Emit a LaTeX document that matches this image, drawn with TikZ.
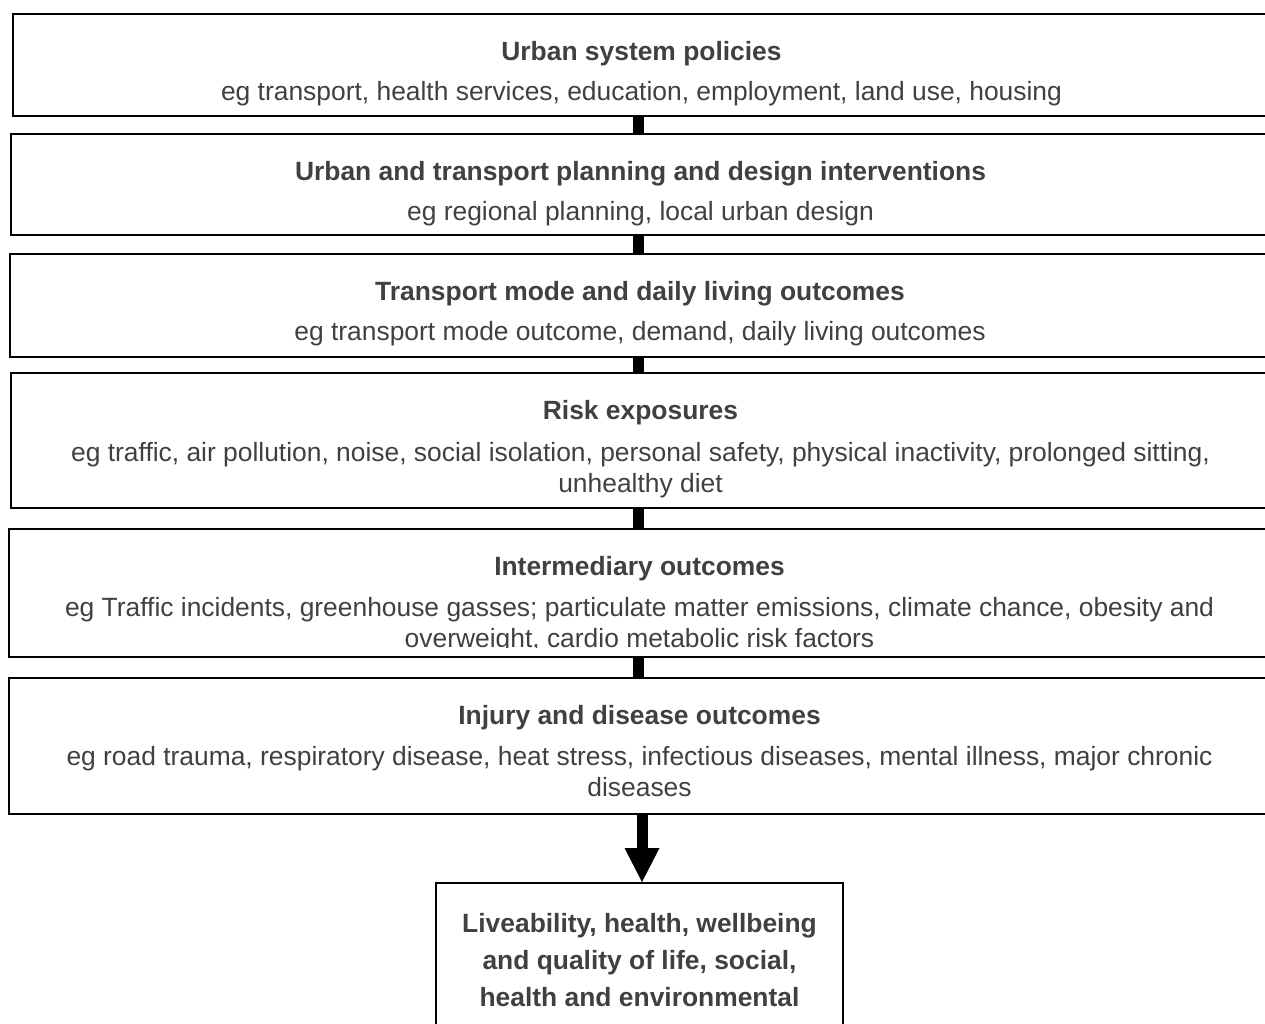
\documentclass[tikz,border=0pt]{standalone}
\usepackage{fontspec}
\setmainfont{Liberation Sans}
\usetikzlibrary{arrows.meta}

\definecolor{inkgray}{RGB}{64,64,64}

\tikzset{
	stage/.style={draw=black, line width=2pt, rectangle, inner sep=0pt},
	caption/.style={anchor=north, inner sep=0pt, align=center, text=inkgray,
		font=\fontsize{26.4}{30.5}\selectfont},
	link/.style={line width=11pt},
	bigarrow/.style={line width=11pt, -{Triangle[width=35pt,length=34pt,line width=0pt]}}
}

\begin{document}
\begin{tikzpicture}[x=1pt, y=-1pt]
	\useasboundingbox (0,0) rectangle (1265,1023);

	\coordinate (spine) at (638,0);
	\coordinate (axis) at (642,0);

	\node[stage, minimum width=1257pt, minimum height=102pt] (policy) at (641.5,65) {};
	\node[stage, minimum width=1259pt, minimum height=101pt] (plan) at (640.5,184.5) {};
	\node[stage, minimum width=1260pt, minimum height=103pt] (mode) at (640,305.5) {};
	\node[stage, minimum width=1259pt, minimum height=135pt] (risk) at (640.5,440.5) {};
	\node[stage, minimum width=1261pt, minimum height=128pt] (inter) at (639.5,593) {};
	\node[stage, minimum width=1261pt, minimum height=136pt] (injury) at (639.5,746) {};
	\node[stage, minimum width=407pt, minimum height=167pt] (outcome) at (639.5,966.5) {};

	\node[caption] (policyText) at ([yshift=-28pt]policy.north)
		{\textbf{Urban system policies}\\[10pt]
		eg transport, health services, education, employment, land use, housing};
	\node[caption] (planText) at ([yshift=-28pt]plan.north)
		{\textbf{Urban and transport planning and design interventions}\\[10pt]
		eg regional planning, local urban design};
	\node[caption] (modeText) at ([yshift=-28pt]mode.north)
		{\textbf{Transport mode and daily living outcomes}\\[10pt]
		eg transport mode outcome, demand, daily living outcomes};
	\node[caption] (riskText) at ([yshift=-28pt]risk.north)
		{\textbf{Risk exposures}\\[12pt]
		eg traffic, air pollution, noise, social isolation, personal safety, physical inactivity, prolonged sitting,\\
		unhealthy diet};
	\begin{scope}
		\clip (9,529) rectangle (1270,647);
		\node[caption] (interText) at ([yshift=-28pt]inter.north)
			{\textbf{Intermediary outcomes}\\[11pt]
			eg Traffic incidents, greenhouse gasses; particulate matter emissions, climate chance, obesity and\\
			overweight, cardio metabolic risk factors};
	\end{scope}
	\node[caption] (injuryText) at ([yshift=-28pt]injury.north)
		{\textbf{Injury and disease outcomes}\\[11pt]
		eg road trauma, respiratory disease, heat stress, infectious diseases, mental illness, major chronic\\
		diseases};
	\node[caption, font=\fontsize{26.4}{37}\selectfont\bfseries] (outcomeText) at ([yshift=-31pt]outcome.north)
		{Liveability, health, wellbeing\\
		and quality of life, social,\\
		health and environmental};

	\draw[link] (policy.south -| spine) -- (plan.north -| spine);
	\draw[link] (plan.south -| spine) -- (mode.north -| spine);
	\draw[link] (mode.south -| spine) -- (risk.north -| spine);
	\draw[link] (risk.south -| spine) -- (inter.north -| spine);
	\draw[link] (inter.south -| spine) -- (injury.north -| spine);
	\draw[bigarrow] (injury.south -| axis) -- (outcome.north -| axis);
\end{tikzpicture}
\end{document}
